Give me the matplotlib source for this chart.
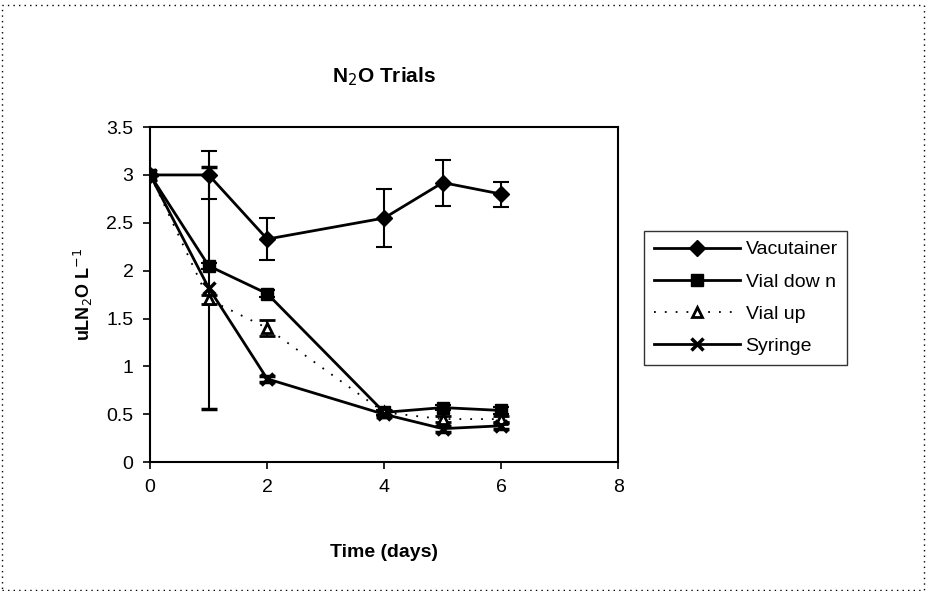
import matplotlib
matplotlib.use('Agg')
import matplotlib.pyplot as plt
from matplotlib.patches import Rectangle
from matplotlib.lines import Line2D

plt.rcParams['font.family'] = ['Liberation Sans', 'DejaVu Sans']

days = [0, 1, 2, 4, 5, 6]
vacutainer = [3.0, 3.0, 2.33, 2.55, 2.92, 2.80]
vacutainer_err = [0, 0.25, 0.22, 0.30, 0.24, 0.13]
vial_down = [3.0, 2.05, 1.76, 0.52, 0.57, 0.54]
vial_down_err = [0, 0.03, 0.04, 0.03, 0.03, 0.04]
vial_up = [3.0, 1.70, 1.40, 0.52, 0.45, 0.45]
vial_up_err = [0, 0.05, 0.08, 0.03, 0.03, 0.03]
syringe = [3.0, 1.82, 0.87, 0.50, 0.35, 0.38]
syringe_err = [0, 1.26, 0.03, 0.03, 0.03, 0.03]

fig = plt.figure(figsize=(9.27, 5.91), dpi=100)
ax = fig.add_axes([0.162, 0.218, 0.505, 0.567])

# frame around whole chart
fig.patches.append(Rectangle((0.002, 0.002), 0.995, 0.99, transform=fig.transFigure,
                             fill=False, edgecolor='black', linewidth=1.0, linestyle=(0, (1, 3))))

common = dict(color='black', capsize=6, elinewidth=1.5, capthick=1.5, markeredgecolor='black')
styles = [
    dict(marker='D', markersize=8, linewidth=2, markerfacecolor='black', linestyle='-'),
    dict(marker='s', markersize=8, linewidth=2, markerfacecolor='black', linestyle='-'),
    dict(marker='^', markersize=7, linewidth=1.3, linestyle=(0, (1, 5)),
         markerfacecolor='white', markeredgewidth=2),
    dict(marker='x', markersize=9, linewidth=2, markeredgewidth=2.5, linestyle='-'),
]
names = ['Vacutainer', 'Vial dow n', 'Vial up', 'Syringe']
series = [(vacutainer, vacutainer_err), (vial_down, vial_down_err),
          (vial_up, vial_up_err), (syringe, syringe_err)]

handles = []
for (vals, err), st, name in zip(series, styles, names):
    ax.errorbar(days, vals, yerr=err, **common, **st)
    handles.append(Line2D([], [], color='black', markeredgecolor='black', **st))

ax.set_xlim(0, 8)
ax.set_ylim(0, 3.5)
ax.set_xticks([0, 2, 4, 6, 8])
ax.set_yticks([0, 0.5, 1, 1.5, 2, 2.5, 3, 3.5])
ax.set_yticklabels(['0', '0.5', '1', '1.5', '2', '2.5', '3', '3.5'])
ax.tick_params(direction='out', length=5, width=1.2, labelsize=14, pad=7)
for s in ax.spines.values():
    s.set_linewidth(1.5)

ax.set_title('N$_2$O Trials', fontsize=15, fontweight='bold', pad=32)
ax.set_xlabel('Time (days)', fontsize=14, fontweight='bold', labelpad=35)
ax.set_ylabel('uLN$_2$O L$^{-1}$', fontsize=13, fontweight='bold', labelpad=8)

leg = ax.legend(handles, names, loc='center left', bbox_to_anchor=(1.035, 0.49),
                frameon=True, fancybox=False, edgecolor='black', fontsize=14,
                handlelength=4.4, labelspacing=0.75, borderpad=0.5, handletextpad=0.3)
leg.get_frame().set_linewidth(1.0)

fig.savefig('out.png', dpi=100)
